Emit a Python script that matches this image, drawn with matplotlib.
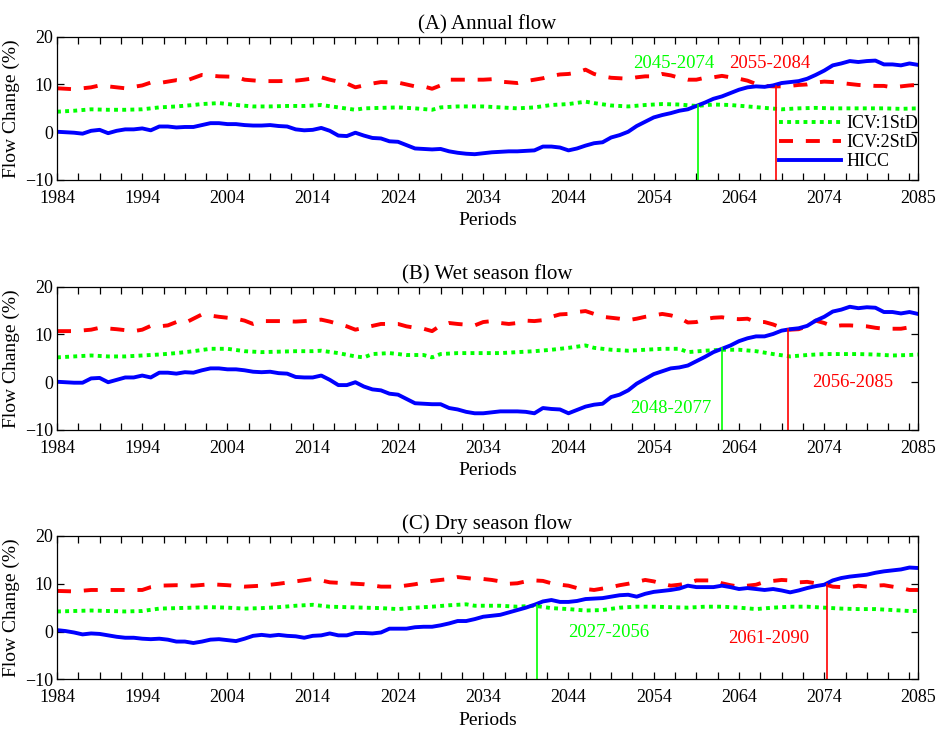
#!/usr/bin/env python3
# -*- coding: utf-8 -*-

"""
Flow change of the HICC signal against the ICV bands (1 and 2 StD),
three panels: annual, wet season and dry season flow.
"""

import numpy as np
import matplotlib
matplotlib.use("Agg")
import matplotlib.pyplot as plt

plt.rcParams['font.family'] = ['Liberation Serif', 'DejaVu Serif']

# ---------------------------------------------------------------- data
years = list(range(1984, 2086))

titles = ["(A) Annual flow", "(B) Wet season flow", "(C) Dry season flow"]
xtick_years = [1984, 1994, 2004, 2014, 2024, 2034, 2044, 2054, 2064, 2074, 2085]

# HICC, one value per year 1984-2085
hicc_annual = [0.1, 0.0, -0.1, -0.3, 0.3, 0.5, -0.2, 0.3, 0.6, 0.6,
               0.8, 0.4, 1.2, 1.2, 1.0, 1.1, 1.1, 1.5, 1.9, 1.9,
               1.7, 1.7, 1.5, 1.4, 1.4, 1.5, 1.3, 1.2, 0.6, 0.4,
               0.5, 0.9, 0.3, -0.7, -0.8, -0.1, -0.7, -1.2, -1.3, -1.9,
               -2.0, -2.7, -3.4, -3.5, -3.6, -3.5, -4.0, -4.3, -4.5, -4.6,
               -4.4, -4.2, -4.1, -4.0, -4.0, -3.9, -3.8, -3.0, -3.0, -3.2,
               -3.8, -3.4, -2.8, -2.3, -2.1, -1.1, -0.6, 0.1, 1.3, 2.2,
               3.1, 3.6, 4.0, 4.5, 4.8, 5.5, 6.2, 7.0, 7.5, 8.2,
               8.9, 9.4, 9.6, 9.5, 9.8, 10.3, 10.5, 10.7, 11.2, 12.0,
               12.9, 14.0, 14.4, 14.9, 14.7, 14.9, 15.0, 14.2, 14.2, 14.0,
               14.4, 14.1]
hicc_wet = [0.1, 0.0, -0.1, -0.1, 0.8, 0.9, 0.0, 0.5, 1.0, 1.0,
            1.4, 1.0, 2.0, 2.0, 1.8, 2.1, 2.0, 2.5, 2.9, 2.9,
            2.7, 2.7, 2.5, 2.2, 2.1, 2.2, 1.9, 1.8, 1.1, 1.0,
            1.0, 1.4, 0.5, -0.6, -0.6, 0.0, -0.9, -1.5, -1.7, -2.4,
            -2.6, -3.5, -4.4, -4.5, -4.6, -4.6, -5.4, -5.7, -6.2, -6.5,
            -6.5, -6.3, -6.1, -6.1, -6.1, -6.2, -6.5, -5.4, -5.6, -5.7,
            -6.5, -5.8, -5.1, -4.7, -4.5, -3.1, -2.6, -1.7, -0.3, 0.7,
            1.7, 2.3, 2.9, 3.1, 3.5, 4.4, 5.3, 6.3, 7.0, 7.7,
            8.6, 9.2, 9.6, 9.6, 10.1, 10.8, 11.1, 11.3, 11.8, 12.9,
            13.7, 14.8, 15.2, 15.8, 15.5, 15.7, 15.6, 14.7, 14.7, 14.4,
            14.7, 14.3]
hicc_dry = [0.3, 0.1, -0.2, -0.6, -0.4, -0.5, -0.8, -1.1, -1.3, -1.3,
            -1.5, -1.6, -1.5, -1.7, -2.1, -2.1, -2.4, -2.1, -1.7, -1.6,
            -1.8, -2.0, -1.5, -0.9, -0.7, -0.9, -0.7, -0.9, -1.0, -1.3,
            -0.9, -0.8, -0.4, -0.8, -0.8, -0.3, -0.3, -0.4, -0.2, 0.6,
            0.6, 0.6, 0.9, 1.0, 1.0, 1.3, 1.7, 2.2, 2.2, 2.6,
            3.1, 3.3, 3.5, 4.0, 4.5, 5.0, 5.6, 6.3, 6.6, 6.2,
            6.2, 6.4, 6.8, 6.9, 7.0, 7.3, 7.6, 7.7, 7.3, 7.9,
            8.3, 8.5, 8.7, 9.0, 9.6, 9.3, 9.3, 9.3, 9.6, 9.3,
            8.9, 9.1, 8.9, 8.7, 8.9, 8.6, 8.2, 8.6, 9.1, 9.5,
            9.8, 10.7, 11.2, 11.5, 11.7, 11.9, 12.3, 12.6, 12.8, 13.0,
            13.4, 13.3]

# ICV 2 StD (red dashed)
sd2_annual_yr = [1984, 1986, 1988, 1989, 1991, 1992, 1994, 1995, 1996, 1998,
                 1999, 2001, 2003, 2005, 2006, 2008, 2010, 2012, 2013, 2015,
                 2016, 2018, 2019, 2021, 2022, 2024, 2026, 2027, 2028, 2029,
                 2030, 2032, 2034, 2035, 2036, 2038, 2039, 2040, 2041, 2042,
                 2043, 2044, 2045, 2046, 2047, 2048, 2049, 2050, 2051, 2052,
                 2053, 2054, 2055, 2056, 2057, 2058, 2059, 2060, 2061, 2062,
                 2063, 2064, 2065, 2066, 2067, 2068, 2069, 2070, 2071, 2072,
                 2073, 2074, 2075, 2076, 2077, 2078, 2079, 2080, 2081, 2082,
                 2083, 2084, 2085]
sd2_annual = [9.2, 9.0, 9.4, 9.8, 9.4, 9.2, 9.8, 10.4, 10.3, 10.9,
              10.7, 12.0, 11.7, 11.6, 11.0, 10.7, 10.7, 10.8, 11.0, 11.5,
              11.0, 10.2, 9.4, 10.2, 10.5, 10.4, 9.6, 9.6, 9.1, 9.8,
              11.0, 11.0, 11.0, 11.1, 10.6, 10.3, 10.7, 11.0, 11.3, 11.8,
              12.1, 12.2, 12.5, 13.1, 12.2, 11.7, 11.4, 11.3, 11.2, 11.5,
              11.7, 11.7, 12.2, 11.9, 11.4, 11.0, 11.0, 11.4, 11.5, 11.8,
              11.5, 11.2, 10.8, 10.1, 9.7, 9.6, 9.6, 9.7, 9.9, 10.0,
              10.4, 10.6, 10.5, 10.3, 10.1, 9.9, 9.8, 9.7, 9.7, 9.4,
              9.6, 9.8, 9.9]
sd2_wet_yr = [1984, 1986, 1988, 1989, 1991, 1993, 1994, 1995, 1996, 1997,
              1998, 1999, 2001, 2003, 2005, 2006, 2007, 2008, 2010, 2012,
              2013, 2015, 2016, 2018, 2019, 2020, 2021, 2022, 2024, 2025,
              2026, 2027, 2028, 2029, 2030, 2031, 2033] + list(range(2034, 2086))
sd2_wet = [10.7, 10.7, 11.0, 11.4, 11.1, 10.7, 11.0, 11.8, 11.7, 11.9,
           12.6, 12.4, 14.2, 13.7, 13.3, 12.9, 12.2, 12.8, 12.8, 12.7,
           12.8, 13.1, 12.7, 11.7, 11.0, 11.4, 11.8, 12.2, 12.2, 11.7,
           11.4, 11.2, 10.7, 11.9, 12.4, 12.2, 11.9,
           12.6, 12.8, 12.4, 12.2, 12.4, 12.9, 12.8, 13.0, 13.7, 14.2,
           14.3, 14.7, 14.9, 14.3, 13.7, 13.5, 13.3, 13.0, 13.3, 13.7,
           14.0, 14.3, 14.0, 13.5, 12.5, 12.6, 13.2, 13.5, 13.6, 13.3,
           13.2, 13.3, 12.6, 12.6, 12.1, 11.4, 11.0, 11.1, 11.7, 12.9,
           12.4, 11.7, 11.9, 11.9, 11.8, 11.7, 11.4, 11.2, 11.2, 11.2,
           11.5, 11.9]
sd2_dry_yr = [1984, 1986, 1988, 1990, 1992, 1994, 1995, 1996, 1998, 2000,
              2002, 2004, 2006, 2008, 2010, 2012, 2014, 2015, 2016, 2018,
              2020, 2022, 2024, 2026, 2028, 2030, 2031, 2033] + list(range(2034, 2086))
sd2_dry = [8.5, 8.4, 8.7, 8.7, 8.7, 8.7, 9.3, 9.6, 9.7, 9.6,
           9.9, 9.7, 9.4, 9.6, 10.0, 10.5, 11.0, 10.7, 10.3, 10.1,
           9.9, 9.4, 9.4, 9.9, 10.6, 11.0, 11.4, 11.0,
           11.0, 10.8, 10.5, 10.0, 10.1, 10.5, 10.7, 10.6, 10.1, 9.8,
           9.6, 9.1, 8.9, 8.7, 9.0, 9.3, 9.7, 10.0, 10.4, 10.8,
           10.5, 10.0, 9.6, 9.8, 10.1, 10.7, 10.7, 10.7, 10.1, 9.7,
           9.4, 9.6, 9.8, 10.4, 10.6, 10.8, 10.7, 10.3, 10.4, 10.1,
           9.9, 9.4, 9.3, 9.3, 9.6, 9.4, 9.6, 9.7, 9.4, 9.1,
           8.7, 8.7]

# ICV 1 StD (green dotted)
sd1_annual_yr = [1984, 1986, 1988, 1990, 1992, 1994, 1996, 1998, 2000, 2001,
                 2003, 2005, 2007, 2009, 2011, 2013, 2015, 2017, 2019, 2020,
                 2022, 2024, 2026, 2028, 2029, 2031, 2033, 2034, 2036, 2038,
                 2040, 2042, 2044, 2046, 2047, 2049, 2051, 2053, 2055, 2057,
                 2059, 2061, 2063, 2065, 2067, 2069, 2071, 2073, 2075, 2077,
                 2079, 2081, 2083, 2085]
sd1_annual = [4.3, 4.5, 4.8, 4.7, 4.7, 4.8, 5.2, 5.4, 5.7, 5.9,
              6.1, 5.7, 5.4, 5.4, 5.5, 5.5, 5.7, 5.2, 4.7, 5.0,
              5.1, 5.2, 5.0, 4.7, 5.2, 5.4, 5.4, 5.4, 5.2, 5.0,
              5.2, 5.7, 5.9, 6.4, 6.1, 5.6, 5.4, 5.7, 5.9, 5.8,
              5.5, 5.8, 5.7, 5.4, 5.1, 4.8, 5.0, 5.1, 5.0, 5.0,
              5.0, 5.0, 4.9, 5.0]
sd1_wet_yr = [1984, 1986, 1988, 1990, 1992, 1994, 1996, 1998, 2000, 2002,
              2004, 2006, 2008, 2010, 2012, 2014, 2015, 2017, 2019, 2020,
              2021, 2023, 2025, 2027, 2028, 2029, 2031, 2033, 2034, 2036,
              2038, 2040, 2042, 2044, 2046, 2047, 2049, 2051, 2053, 2055,
              2057, 2058, 2060, 2062, 2064, 2066, 2068, 2070, 2072, 2074,
              2076, 2078, 2080, 2082, 2084, 2085]
sd1_wet = [5.2, 5.4, 5.6, 5.4, 5.4, 5.6, 5.8, 6.1, 6.5, 7.0,
           7.0, 6.5, 6.3, 6.4, 6.5, 6.5, 6.6, 6.1, 5.4, 5.2,
           5.9, 6.1, 5.7, 5.7, 5.2, 5.9, 6.1, 6.1, 6.1, 6.1,
           6.3, 6.5, 6.8, 7.2, 7.7, 7.2, 6.8, 6.6, 6.8, 7.0,
           7.0, 6.3, 6.6, 6.8, 6.8, 6.5, 5.9, 5.4, 5.7, 5.9,
           5.9, 5.9, 5.8, 5.6, 5.7, 5.8]
sd1_dry_yr = [1984, 1986, 1988, 1990, 1992, 1994, 1996, 1998, 2000, 2002,
              2004, 2006, 2008, 2010, 2012, 2014, 2016, 2018, 2020, 2022,
              2024, 2026, 2028, 2030, 2032, 2033, 2034, 2036, 2038, 2040,
              2042, 2044, 2046, 2048, 2050, 2052, 2054, 2056, 2058, 2060,
              2062, 2064, 2066, 2068, 2070, 2072, 2074, 2076, 2078, 2080,
              2082, 2084, 2085]
sd1_dry = [4.2, 4.3, 4.4, 4.3, 4.2, 4.3, 4.8, 4.9, 5.0, 5.1,
           5.0, 4.8, 4.9, 5.1, 5.4, 5.6, 5.2, 5.1, 5.0, 4.9,
           4.7, 5.0, 5.2, 5.5, 5.7, 5.4, 5.4, 5.4, 5.2, 5.4,
           4.9, 4.7, 4.4, 4.5, 5.0, 5.2, 5.2, 5.1, 5.0, 5.2,
           5.2, 5.0, 4.7, 5.0, 5.2, 5.2, 5.0, 4.8, 4.7, 4.7,
           4.5, 4.3, 4.3]

# emergence points: (year, flow) where HICC leaves the 1StD / 2StD band
emerge_1sd = [(2059.2, 5.6), (2062.0, 7.1), (2040.3, 5.6)]
emerge_2sd = [(2068.4, 9.6), (2069.7, 11.1), (2074.3, 10.0)]
# window labels and where they are written (year, flow)
label_1sd = ["2045-2074", "2048-2077", "2027-2056"]
label_2sd = ["2055-2084", "2056-2085", "2061-2090"]
label_1sd_pos = [(2056.3, 14.4), (2056.0, -5.4), (2048.7, -0.2)]
label_2sd_pos = [(2067.6, 14.4), (2077.3, 0.0), (2067.5, -1.4)]

hicc = [hicc_annual, hicc_wet, hicc_dry]
sd1 = [(sd1_annual_yr, sd1_annual), (sd1_wet_yr, sd1_wet), (sd1_dry_yr, sd1_dry)]
sd2 = [(sd2_annual_yr, sd2_annual), (sd2_wet_yr, sd2_wet), (sd2_dry_yr, sd2_dry)]

GREEN = '#00ff00'
RED = '#ff0000'
BLUE = '#0000ff'

if __name__ == "__main__":
    fig = plt.figure(figsize=(9.4, 7.34), dpi=100)
    # axes boxes in pixels (left, top, right, bottom) -> figure fractions
    W, H = 940., 734.
    boxes = [(57, 36.7, 918, 180), (57, 286.7, 918, 430), (57, 536, 918, 679.3)]

    minor = [1984 + 2.5 * k for k in range(41)]

    for i, (l, t, r, b) in enumerate(boxes):
        ax = fig.add_axes([l / W, 1 - b / H, (r - l) / W, (b - t) / H])

        ax.plot(sd1[i][0], sd1[i][1], color=GREEN, lw=2.8, ls=(0, (1.0, 1.1)),
                label='ICV:1StD')
        ax.plot(sd2[i][0], sd2[i][1], color=RED, lw=2.8, ls=(0, (3.6, 3.3)),
                label='ICV:2StD')
        ax.plot(years, hicc[i], color=BLUE, lw=2.8, label='HICC')

        # vertical markers from the bottom up to the emergence point
        x1, y1 = emerge_1sd[i]
        x2, y2 = emerge_2sd[i]
        ax.plot([x1, x1], [-10, y1], color=GREEN, lw=1.2)
        ax.plot([x2, x2], [-10, y2], color=RED, lw=1.2)
        ax.text(*label_1sd_pos[i], label_1sd[i], color=GREEN, fontsize=13.5,
                ha='center', va='center')
        ax.text(*label_2sd_pos[i], label_2sd[i], color=RED, fontsize=13.5,
                ha='center', va='center')

        ax.set_xlim(1984, 2085)
        ax.set_ylim(-10, 20)
        ax.set_xticks(xtick_years)
        ax.set_xticklabels([str(y) for y in xtick_years])
        ax.set_xticks([m for m in minor if m not in xtick_years], minor=True)
        ax.set_yticks([-10, 0, 10, 20])
        ax.tick_params(which='both', direction='in', top=True, right=True,
                       length=5, width=0.9, labelsize=13)
        ax.tick_params(axis='x', pad=7)
        ax.tick_params(axis='y', pad=3)
        for s in ax.spines.values():
            s.set_linewidth(0.9)

        ax.set_title(titles[i], fontsize=15, pad=5)
        ax.set_xlabel('Periods', fontsize=14)
        ax.set_ylabel('Flow Change (%)', fontsize=14)
        ax.xaxis.set_label_coords(0.5, -0.225)
        ax.yaxis.set_label_coords(-0.043, 0.5)

        if i == 0:
            ax.legend(loc='lower right', bbox_to_anchor=(1.0, 0.07),
                      frameon=False, fontsize=13, borderaxespad=0,
                      borderpad=0, handlelength=3.4, handletextpad=0.3,
                      labelspacing=0.1)

    plt.savefig("out.png", dpi=100)
